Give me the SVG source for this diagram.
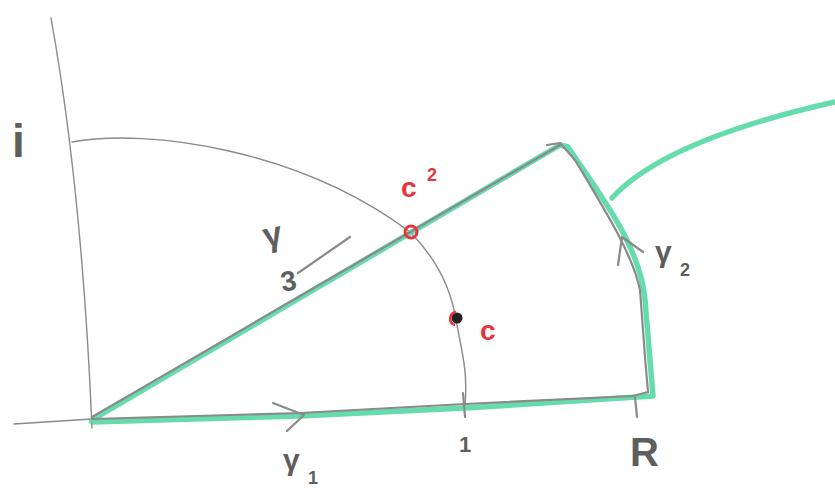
<svg xmlns="http://www.w3.org/2000/svg" width="835" height="495" viewBox="0 0 835 495">
<style>
.pencil{fill:none;stroke:#8a8a8a;stroke-linecap:round;stroke-linejoin:round}
.thin{stroke-width:1.4}
.mid{stroke-width:2.2}
.green{fill:none;stroke:#55d8a4;stroke-width:5.5;stroke-linecap:round;stroke-linejoin:round;opacity:0.9}
.lbl{font-family:"Liberation Sans",Arial,sans-serif;fill:#5e5e5e;font-weight:bold}
.red{font-family:"Liberation Sans",Arial,sans-serif;fill:#e8353c;font-weight:bold}
</style>
<rect width="835" height="495" fill="#ffffff"/>
<g id="axes">
<path class="pencil thin" d="M51,18 Q82,190 92,428"/>
<path class="pencil thin" d="M14,424 L92,419"/>
</g>
<g id="arc">
<path class="pencil thin" d="M72,142 C150,128 300,150 410,232 C440,262 452,295 456,320 C462,352 468,372 465,405"/>
</g>
<g id="contour">
<path class="green" d="M92,422 L300,416 L465,408 L653,396 L645,300 C640,245 600,195 568,147 L560,145 L92,420"/>
<path class="green" d="M612,198 Q665,140 835,102"/>
<path class="pencil mid" d="M92,419 L300,413 L465,404 L633,396 L648,392 L645,357 L640,290 C633,255 605,210 575,160 L560,143 L547,145"/>
<path class="pencil mid" d="M92,417 L560,145"/>
</g>
<g id="connectors">
<path class="pencil mid" d="M273,403 L304,415 L287,431"/>
<path class="pencil mid" d="M618,265 L622,237 L643,252"/>
<path class="pencil mid" d="M350,237 L298,273"/>
<path class="pencil mid" d="M463,393 L465,417"/>
<path class="pencil mid" d="M635,397 L637,417"/>
</g>
<g id="points">
<circle cx="411" cy="232" r="6" fill="none" stroke="#e8353c" stroke-width="3"/>
<circle cx="457" cy="318" r="5.5" fill="#222"/>
<path d="M456,312 C449,313 448,323 455,325" fill="none" stroke="#e8353c" stroke-width="2.6"/>
</g>
<g id="labels">
<text class="lbl" x="12" y="157" font-size="46" font-weight="normal">i</text>
<text class="lbl" x="262" y="245" font-size="34" transform="rotate(-12 275 230)">γ</text>
<text class="lbl" x="280" y="290" font-size="28" transform="rotate(-10 292 276)">3</text>
<text class="red" x="401" y="197" font-size="28">c</text>
<text class="red" x="427" y="181" font-size="18">2</text>
<text class="red" x="480" y="340" font-size="28">c</text>
<text class="lbl" x="655" y="262" font-size="30">γ</text>
<text class="lbl" x="680" y="276" font-size="18">2</text>
<text class="lbl" x="283" y="470" font-size="30">γ</text>
<text class="lbl" x="308" y="484" font-size="18">1</text>
<text class="lbl" x="459" y="452" font-size="22">1</text>
<text class="lbl" x="630" y="466" font-size="40">R</text>
</g>
</svg>
